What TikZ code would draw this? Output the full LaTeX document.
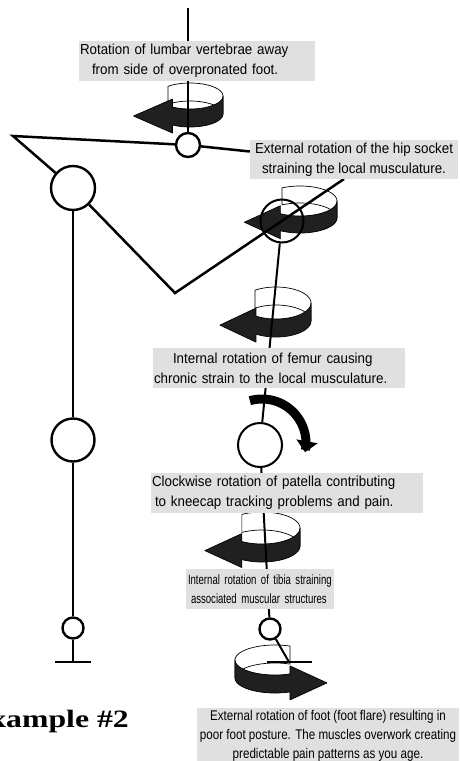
\documentclass[tikz,border=0pt]{standalone}
\usepackage{fontspec}
\usepackage{graphicx}
\setmainfont{Liberation Sans}
\newfontfamily\notefont{Liberation Sans}[FakeStretch=0.92]
\newfontfamily\flarefont{Liberation Sans}[FakeStretch=0.83]
\newfontfamily\tibfont{Liberation Sans}[FakeStretch=0.71]
\newfontfamily\titlefont{Liberation Serif}
\usetikzlibrary{arrows.meta,backgrounds}
\definecolor{ribbon}{RGB}{32,32,32}

\newcommand{\twist}[9]{%
  \filldraw[fill=white, line width=0.7pt, line join=round]
    plot[domain=#6:#7, samples=40, variable=\ang] ({#1+#3*cos(\ang)}, {#2+#4*sin(\ang)})
    -- plot[domain=#7:#6, samples=40, variable=\ang] ({#1+#3*cos(\ang)}, {#2+#5+#4*sin(\ang)})
    -- cycle;
  \filldraw[fill=ribbon, line width=0.7pt, line join=round]
    plot[domain=#7:#8, samples=40, variable=\ang] ({#1+#3*cos(\ang)}, {#2+#4*sin(\ang)})
    -- ++(0,-8)
    -- ({#1+#3*cos(#8)+#9}, {#2+#4*sin(#8)+#5/2})
    -- ({#1+#3*cos(#8)}, {#2+#5+#4*sin(#8)+8})
    -- plot[domain=#8:#7, samples=40, variable=\ang] ({#1+#3*cos(\ang)}, {#2+#5+#4*sin(\ang)})
    -- cycle;
}

\begin{document}
\begin{tikzpicture}[x=1pt, y=-1pt,
  joint/.style={circle, draw, line width=2.4pt, inner sep=0pt},
  bone/.style={line width=2.5pt},
  shin/.style={line width=2pt},
  note/.style={fill=black!12, inner sep=0pt, align=center, minimum height=40pt, font=\notefont\fontsize{14.5}{20}\selectfont}
]
\useasboundingbox (0,0) rectangle (459,761);

\node[joint, minimum size=24pt] (lumb) at (188,145) {};
\node[joint, minimum size=44pt] (hipL) at (73,188) {};
\node[joint, minimum size=43pt] (kneeL) at (73,440) {};
\node[joint, minimum size=21pt] (ankL) at (73,628) {};
\node[joint, minimum size=43pt, line width=2pt] (hipR) at (282,221) {};
\node[joint, minimum size=44pt, line width=2pt] (kneeR) at (260,445) {};
\node[joint, minimum size=21pt] (ankR) at (270,629) {};

\coordinate (spine) at (188,8);
\coordinate (pelL) at (13,136);
\coordinate (vee) at (175,293);
\coordinate (hiptip) at (344,179);
\coordinate (heelL) at (73,662);
\coordinate (heelR) at (289,662);

\node[note, minimum width=236pt, text width=234pt, align=left] (lumbnote) at (197,61) {Rotation of lumbar vertebrae away\\\hspace*{12pt}from side of overpronated foot.};
\node[note, minimum width=208pt, minimum height=39pt] (hipnote) at (354,159.5) {External rotation of the hip socket\\straining the local musculature.};
\node[note, minimum width=252pt, text width=250pt, align=left] (femnote) at (279,368) {\hspace*{19pt}Internal rotation of femur causing\\chronic strain to the local musculature.};
\node[note, minimum width=272pt, text width=270pt, align=left] (patnote) at (287,493) {Clockwise rotation of patella contributing\\\hspace*{3pt}to kneecap tracking problems and pain.};
\node[note, minimum width=148pt, text width=144pt, align=left, font=\tibfont\fontsize{13.5}{19}\selectfont] (tibnote) at (260,589) {Internal rotation of tibia straining\\\hspace*{3pt}associated muscular structures};
\node[note, minimum width=262pt, minimum height=56pt, font=\flarefont\fontsize{14}{19}\selectfont] (flarenote) at (328,736) {External rotation of foot (foot flare) resulting in\\poor foot posture. The muscles overwork creating\\predictable pain patterns as you age.};
\node[anchor=base east, inner sep=0pt, font=\titlefont\bfseries\fontsize{25}{30}\selectfont] (title) at (129,727) {\scalebox{1.27}[1]{Example \#2}};

\begin{pgfonlayer}{background}
\twist{190}{96}{33}{13}{18}{-132}{0}{122}{-39}
\twist{300}{201}{37}{15}{17}{-119}{0}{122}{-36}
\twist{276}{303}{35}{16}{18}{-127}{0}{125}{-36}
\twist{262}{528}{38}{16}{18}{-122}{0}{122}{-37}
\twist{275}{660}{40}{15}{18}{-68}{-180}{-292}{37}
\draw[line width=9pt, -{Triangle[width=21pt, length=11pt]}] plot[domain=-106:12, samples=40, variable=\ang] ({262+44*cos(\ang)}, {443+44*sin(\ang)});
\draw[bone] (spine) -- (lumb);
\draw[bone] (hipL) -- (pelL) -- (lumb);
\draw[bone] (lumb) -- ([yshift=8pt]hipnote.west);
\draw[bone] (hipL) -- (vee) -- (hiptip);
\draw[bone] (hipL) -- (kneeL) -- (ankL) -- (heelL);
\draw[bone] ([xshift=-18pt]heelL) -- ([xshift=18pt]heelL);
\draw[shin] (hipR) -- (kneeR) -- (ankR);
\draw[shin] (ankR) -- (heelR);
\draw[bone] ([xshift=-22pt]heelR) -- ([xshift=23pt]heelR);
\end{pgfonlayer}
\end{tikzpicture}
\end{document}
